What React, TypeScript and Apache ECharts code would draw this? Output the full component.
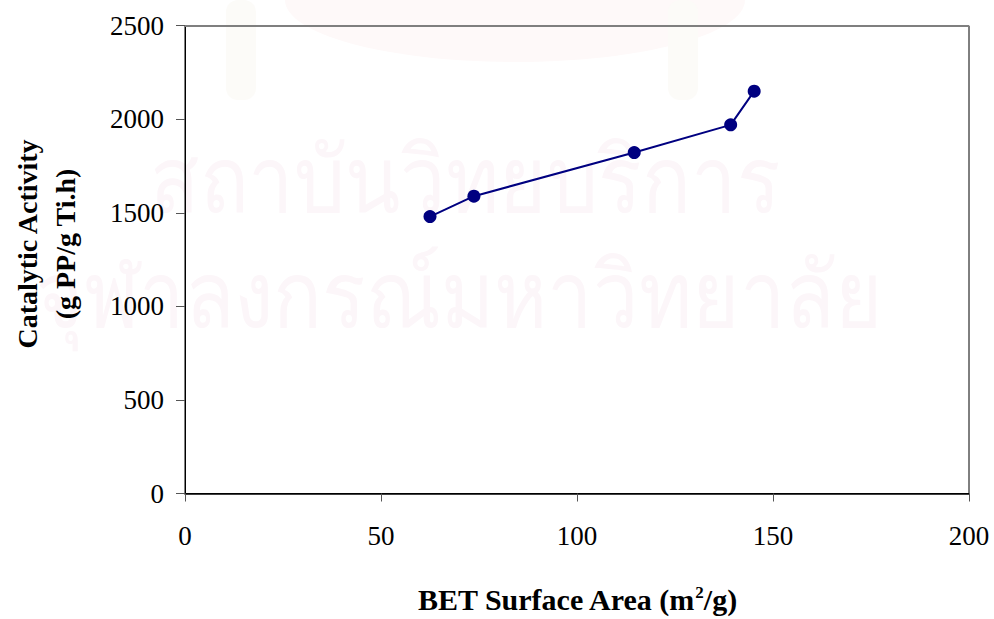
import React, { useEffect, useRef } from "react";
import * as echarts from "echarts";

const surfaceArea = [62.5, 73.7, 114.6, 139.2, 145.2];
const activity = [1480, 1589, 1822, 1970, 2150];
const xTicks = { min: 0, max: 200, interval: 50 };
const yTicks = { min: 0, max: 2500, interval: 500 };
const xTitle = "BET Surface Area";
const yTitle = ["Catalytic Activity", "(g PP/g Ti.h)"];
const watermark = ["สถาบันวิทยบริการ", "จุฬาลงกรณ์มหาวิทยาลัย"];

export default function App() {
  const ref = useRef<HTMLDivElement>(null);
  useEffect(() => {
    if (!ref.current) return;
    const chart = echarts.init(ref.current, null, { renderer: "svg" });
    const serif = "'Liberation Serif', 'Times New Roman', serif";
    const data = surfaceArea.map((x, i) => [x, activity[i]]);
    const wmFill = "#fcf6f9";
    chart.setOption({
      animation: false,
      backgroundColor: "#ffffff",
      grid: { left: 185, right: 25, top: 25.7, bottom: 121.3, show: true, borderColor: "#000", borderWidth: 1 },
      graphic: [
        {
          type: "ellipse",
          silent: true,
          z: -20,
          shape: { cx: 515, cy: 0, rx: 230, ry: 62 },
          style: { fill: "#fef9f9" },
        },
        {
          type: "rect",
          silent: true,
          z: -20,
          shape: { x: 226, y: 0, width: 30, height: 100, r: 12 },
          style: { fill: "#fcfbf8" },
        },
        {
          type: "rect",
          silent: true,
          z: -20,
          shape: { x: 668, y: 0, width: 30, height: 100, r: 12 },
          style: { fill: "#fcfbf8" },
        },
        {
          type: "text",
          silent: true,
          z: -10,
          x: 150,
          y: 222,
          scaleX: 0.88,
          style: {
            text: watermark[0],
            font: "92px 'Noto Sans', 'DejaVu Sans', sans-serif",
            fill: wmFill,
            verticalAlign: "bottom",
          },
        },
        {
          type: "text",
          silent: true,
          z: -10,
          x: 36,
          y: 337,
          scaleX: 0.88,
          style: {
            text: watermark[1],
            font: "92px 'Noto Sans', 'DejaVu Sans', sans-serif",
            fill: wmFill,
            verticalAlign: "bottom",
          },
        },
        {
          type: "text",
          x: 46,
          y: 244,
          rotation: Math.PI / 2,
          style: {
            text: yTitle.join("\n"),
            font: `bold 28px ${serif}`,
            fill: "#000",
            align: "center",
            verticalAlign: "middle",
            lineHeight: 38,
          },
        },
      ],
      xAxis: {
        type: "value",
        min: xTicks.min,
        max: xTicks.max,
        interval: xTicks.interval,
        name: `{a|${xTitle} (m}{s|2}{a|/g)}`,
        nameLocation: "middle",
        nameGap: 90,
        nameTextStyle: {
          rich: {
            a: { fontFamily: serif, fontWeight: "bold", fontSize: 30, color: "#000" },
            s: { fontFamily: serif, fontWeight: "bold", fontSize: 17, color: "#000", padding: [0, 0, 14, 0] },
          },
        },
        axisLine: { show: true, onZero: false, lineStyle: { color: "#000", width: 1.5 } },
        axisTick: { show: true, length: 8, lineStyle: { color: "#555", width: 1 } },
        axisLabel: { fontFamily: serif, fontSize: 27, color: "#000", margin: 29, formatter: (v: number) => String(v) },
        splitLine: { show: false },
      },
      yAxis: {
        type: "value",
        min: yTicks.min,
        max: yTicks.max,
        interval: yTicks.interval,
        axisLine: { show: true, lineStyle: { color: "#000", width: 1 } },
        axisTick: { show: true, length: 9, lineStyle: { color: "#555", width: 1 } },
        axisLabel: { fontFamily: serif, fontSize: 27, color: "#000", margin: 21, formatter: (v: number) => String(v) },
        splitLine: { show: false },
      },
      series: [
        {
          type: "line",
          data,
          symbol: "circle",
          symbolSize: 13,
          itemStyle: { color: "#000080" },
          lineStyle: { color: "#000080", width: 2 },
          markLine: {
            silent: true,
            symbol: "none",
            label: { show: false },
            lineStyle: { color: "#7f7f7f", width: 2, type: "solid" },
            data: [{ yAxis: yTicks.max }],
          },
        },
      ],
    });
    return () => chart.dispose();
  }, []);
  return <div ref={ref} style={{ width: 994, height: 619, position: "absolute", left: 0, top: 0 }} />;
}
